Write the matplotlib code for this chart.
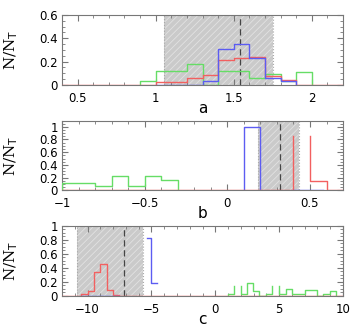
import numpy as np
import matplotlib
matplotlib.use('Agg')
import matplotlib.pyplot as plt
from matplotlib.ticker import MultipleLocator, FuncFormatter

plt.rcParams['hatch.linewidth'] = 0.6
plt.rcParams['font.family'] = 'DejaVu Sans'

GREEN = '#66dd66'
BLUE = '#5c5cf2'
RED = '#f26060'

# panel a
a_green_edges = [0.9, 1.0, 1.1, 1.2, 1.3, 1.4, 1.5, 1.6, 1.7, 1.8, 1.9, 2.0]
a_green_vals = [0.034, 0.12, 0.12, 0.177, 0.0, 0.12, 0.12, 0.06, 0.09, 0.03, 0.114]
a_red_edges = [0.4, 0.5, 0.6, 0.7, 0.8, 0.9, 1.0, 1.1, 1.2, 1.3, 1.4, 1.5, 1.6,
               1.7, 1.8, 1.9, 2.0, 2.1, 2.2]
a_red_vals = [0, 0, 0, 0, 0, 0, 0.026, 0.026, 0.057, 0.083, 0.214, 0.229, 0.243,
              0.077, 0.04, 0, 0, 0]
a_blue_edges = [1.0, 1.1, 1.2, 1.3, 1.4, 1.5, 1.6, 1.7, 1.8, 1.9]
a_blue_vals = [0, 0, 0, 0.031, 0.306, 0.349, 0.234, 0.057, 0.03]
a_shade = (1.053, 1.752)
a_dash = 1.543

# panel b
b_green_edges = [-1.0, -0.9, -0.8, -0.7, -0.6, -0.5, -0.4, -0.3]
b_green_vals = [0.11, 0.11, 0.063, 0.23, 0.063, 0.23, 0.167]
b_blue_edges = [0.1, 0.2]
b_blue_vals = [1.0]
b_blue_floor = [0.4, 0.58]
b_red_edges = [-1.0, 0.4, 0.5, 0.6, 0.7]
b_red_vals = [0, 0.85, 0.14, 0]
b_shade = (0.185, 0.434)
b_dash = 0.317

# panel c
c_green_edges = [1.0, 1.5, 2.0, 2.45, 2.95, 3.45, 3.95, 4.45, 5.0, 5.5, 6.0,
                 7.0, 8.0, 8.45, 8.95, 9.45]
c_green_vals = [0.025, 0.14, 0.025, 0.18, 0.07, 0, 0.025, 0.145, 0.025, 0.1,
                0.025, 0.08, 0, 0.025, 0.07]
c_red_edges = [-12, -10.5, -10, -9.5, -9, -8.5, -8, -7.5, 10]
c_red_vals = [0, 0.03, 0.075, 0.346, 0.45, 0.085, 0.02, 0]
c_blue_floor = [-10.5, -7.5]
c_blue_edges = [-5.33, -5.0, -4.6]
c_blue_vals = [0.82, 0.18]
c_shade = (-10.82, -5.66)
c_dash = -7.14


def pgbin(ax, edges, vals, color, notop=(), ends=True):
    # step outline, optionally without the top of some bins
    xs, ys = [], []
    if ends:
        xs.append(edges[0]); ys.append(0)
    for i, v in enumerate(vals):
        xs.append(edges[i]); ys.append(v)
        if i in notop:
            xs.append(np.nan); ys.append(np.nan)
        xs.append(edges[i + 1]); ys.append(v)
    if ends:
        xs.append(edges[-1]); ys.append(0)
    ax.plot(xs, ys, color=color, lw=1.0, zorder=3)


def fmt(v, pos):
    return f'{v:g}'.replace('-', '\u2212')


def setup(ax, xlim, ylim, xmaj, xmin, label):
    ax.set_xlim(*xlim)
    ax.set_ylim(*ylim)
    ax.xaxis.set_major_locator(MultipleLocator(xmaj))
    ax.xaxis.set_minor_locator(MultipleLocator(xmin))
    ax.yaxis.set_major_locator(MultipleLocator(0.2))
    ax.yaxis.set_minor_locator(MultipleLocator(0.05))
    ax.xaxis.set_major_formatter(FuncFormatter(fmt))
    ax.yaxis.set_major_formatter(FuncFormatter(fmt))
    ax.tick_params(which='both', direction='in', top=True, right=True,
                   color='#777777', labelsize=8.5)
    ax.tick_params(axis='x', pad=5)
    ax.tick_params(axis='y', pad=3)
    ax.tick_params(which='major', length=4, width=0.8)
    ax.tick_params(which='minor', length=2, width=0.6)
    for s in ax.spines.values():
        s.set_color('#777777')
        s.set_linewidth(0.8)
    ax.set_xlabel(label, fontsize=11, labelpad=-3)
    ax.set_ylabel('N/N$_{\\rm T}$', family='DejaVu Serif', fontsize=11)
    ax.yaxis.set_label_coords(-0.15, 0.5)


def shade(ax, span, dash):
    ax.axvspan(span[0], span[1], facecolor='#cacaca', edgecolor='#e2e2e2',
               hatch='/////', lw=0, zorder=1)
    ax.axvspan(span[0], span[1], facecolor='none', edgecolor='#aaaaaa',
               ls=':', lw=0.8, zorder=1)
    ax.axvline(dash, color='#444444', ls=(0, (5, 3)), lw=0.9, zorder=2)


fig = plt.figure(figsize=(3.58, 3.32), dpi=100)
ax_a = fig.add_axes([0.1732, 0.744, 0.785, 0.211])
ax_b = fig.add_axes([0.1732, 0.4268, 0.785, 0.2087])
ax_c = fig.add_axes([0.1732, 0.1084, 0.785, 0.2117])

shade(ax_a, a_shade, a_dash)
pgbin(ax_a, a_green_edges, a_green_vals, GREEN)
pgbin(ax_a, a_red_edges, a_red_vals, RED, ends=False)
pgbin(ax_a, a_blue_edges, a_blue_vals, BLUE)
setup(ax_a, (0.4, 2.2), (0, 0.6), 0.5, 0.1, 'a')

shade(ax_b, b_shade, b_dash)
pgbin(ax_b, b_green_edges, b_green_vals, GREEN)
pgbin(ax_b, b_blue_edges, b_blue_vals, BLUE)
pgbin(ax_b, b_red_edges, b_red_vals, RED, notop=(1,), ends=False)
pgbin(ax_b, b_blue_floor, [0], BLUE, ends=False)
setup(ax_b, (-1, 0.7), (0, 1.09), 0.5, 0.1, 'b')

shade(ax_c, c_shade, c_dash)
pgbin(ax_c, c_green_edges, c_green_vals, GREEN, notop=(1, 7))
pgbin(ax_c, c_red_edges, c_red_vals, RED, ends=False)
pgbin(ax_c, c_blue_floor, [0], BLUE, ends=False)
pgbin(ax_c, c_blue_edges, c_blue_vals, BLUE, ends=False)
setup(ax_c, (-12, 10), (0, 1), 5, 1, 'c')

fig.savefig('out.png', dpi=100)
